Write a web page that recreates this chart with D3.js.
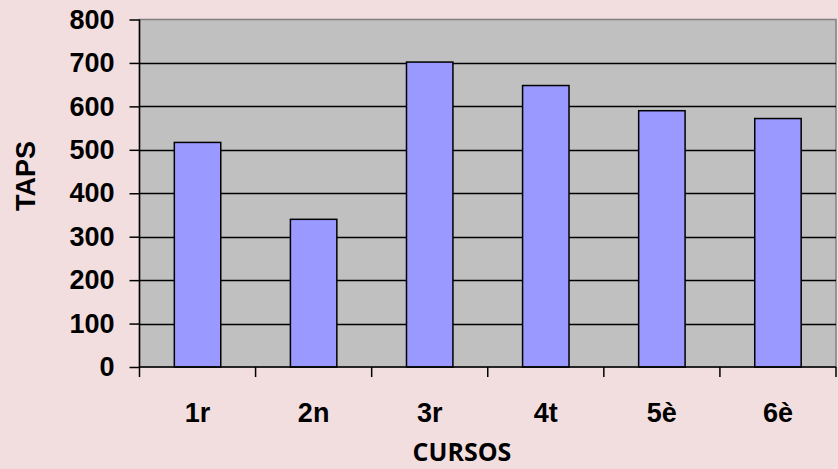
<!DOCTYPE html>
<html><head><meta charset="utf-8">
<script src="https://cdn.jsdelivr.net/npm/d3@7"></script>
<style>html,body{margin:0;padding:0;background:#f2dede;}svg{display:block;}</style>
</head><body>
<script>
const categories = ["1r","2n","3r","4t","5è","6è"];
const values = [517, 340, 702, 648, 590, 572];
const yTicks = [0,100,200,300,400,500,600,700,800];

const W = 838, H = 469;
const FONT = "'Liberation Sans', Arial, sans-serif";
const m = {left:139.5, right:2, top:19.5, bottom:102};
const svg = d3.select("body").append("svg").attr("width",W).attr("height",H);
svg.append("rect").attr("width",W).attr("height",H).attr("fill","#f2dede");

const x = d3.scaleBand().domain(categories).range([m.left, 836]).paddingInner(0.6).paddingOuter(0.3);
const y = d3.scaleLinear().domain([0,800]).range([367, 19.5]);

svg.append("rect").attr("x",m.left).attr("y",y(800)).attr("width",836-m.left).attr("height",y(0)-y(800))
  .attr("fill","#c0c0c0").attr("stroke","#808080").attr("stroke-width",1.5);

// gridlines
svg.append("g").selectAll("line").data(yTicks.filter(d=>d>0 && d<800)).join("line")
  .attr("x1",m.left).attr("x2",836).attr("y1",d=>Math.round(y(d))+0.5).attr("y2",d=>Math.round(y(d))+0.5)
  .attr("stroke","#000").attr("stroke-width",1.5);

// bars
svg.append("g").selectAll("rect").data(values).join("rect")
  .attr("x",(d,i)=>x(categories[i])).attr("width",x.bandwidth())
  .attr("y",d=>y(d)).attr("height",d=>y(0)-y(d))
  .attr("fill","#9999ff").attr("stroke","#000").attr("stroke-width",1.5);

// y axis
const ya = d3.axisLeft(y).tickValues(yTicks).tickSize(10).tickPadding(15).tickFormat(d3.format("d"));
const gy = svg.append("g").attr("transform",`translate(${m.left},0)`).call(ya);
gy.select(".domain").attr("stroke","#000").attr("stroke-width",1.5).attr("d",`M0,${y(800)}V${y(0)}`);
gy.selectAll(".tick line").attr("stroke","#000").attr("stroke-width",1.5);
gy.selectAll(".tick text").attr("font-family",FONT).attr("font-weight","bold").attr("font-size",27).attr("fill","#000");

// x axis
const bounds = d3.range(categories.length+1).map(i=>m.left + i*(836-m.left)/categories.length);
const gx = svg.append("g");
gx.append("line").attr("x1",m.left).attr("x2",836).attr("y1",367).attr("y2",367).attr("stroke","#000").attr("stroke-width",1.5);
gx.selectAll("line.t").data(bounds).join("line").attr("class","t")
  .attr("x1",d=>d).attr("x2",d=>d).attr("y1",367).attr("y2",377).attr("stroke","#000").attr("stroke-width",1.5);
gx.selectAll("text").data(categories).join("text")
  .attr("x",d=>x(d)+x.bandwidth()/2).attr("y",422).attr("text-anchor","middle")
  .attr("font-family",FONT).attr("font-weight","bold").attr("font-size",27).attr("fill","#000")
  .text(d=>d);

// axis titles
svg.append("text").attr("x",462).attr("y",461).attr("text-anchor","middle")
  .attr("font-family","'Open Sans', sans-serif").attr("font-weight","bold").attr("font-size",25).attr("fill","#000").text("CURSOS");
svg.append("text").attr("transform","translate(35,176) rotate(-90)").attr("text-anchor","middle")
  .attr("font-family",FONT).attr("font-weight","bold").attr("font-size",27).attr("fill","#000").text("TAPS");
</script>
</body></html>
